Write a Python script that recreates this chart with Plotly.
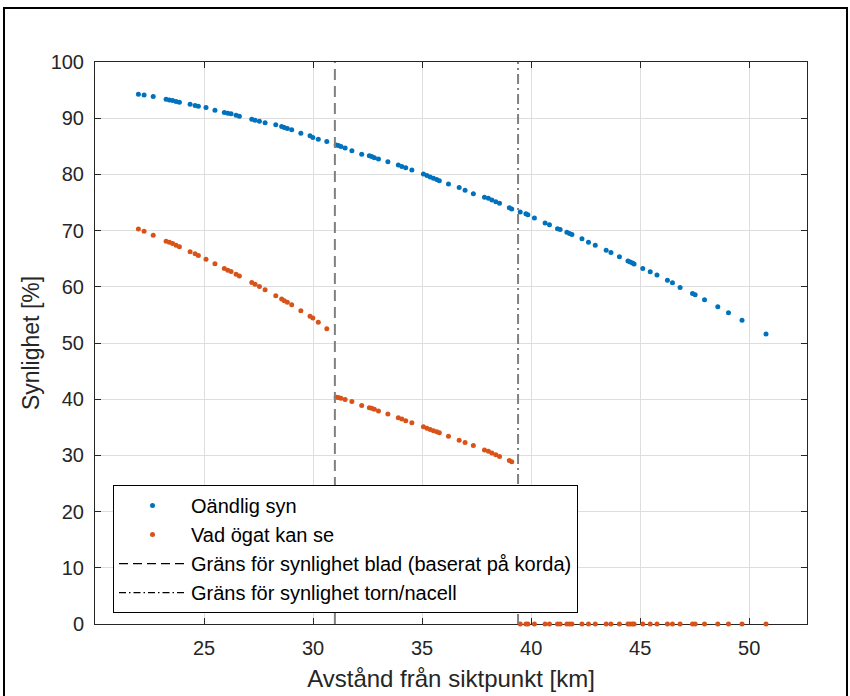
import plotly.graph_objects as go

# ---- data ----
distance_km = [
    21.99, 22.25, 22.67, 23.26, 23.41, 23.56, 23.72, 23.87, 24.36, 24.59, 24.74, 25.09, 25.50, 25.93, 26.09, 26.24,
    26.47, 26.62, 27.19, 27.34, 27.54, 27.80, 28.29, 28.56, 28.68, 28.82, 29.02, 29.44, 29.86, 29.99, 30.24, 30.63,
    31.06, 31.16, 31.28, 31.47, 31.78, 32.23, 32.58, 32.69, 32.81, 33.00, 33.43, 33.91, 34.07, 34.25, 34.53, 35.06,
    35.22, 35.37, 35.52, 35.67, 35.79, 36.21, 36.70, 36.97, 37.35, 37.86, 38.04, 38.20, 38.38, 38.55, 39.00, 39.11,
    39.50, 39.76, 39.85, 40.15, 40.64, 40.84, 41.21, 41.33, 41.64, 41.76, 41.87, 42.33, 42.63, 42.94, 43.44, 43.66,
    44.05, 44.44, 44.54, 44.65, 44.72, 45.12, 45.46, 45.77, 46.25, 46.48, 46.83, 47.40, 47.52, 47.95, 48.56, 49.05,
    49.67, 50.77,
]
oandlig_syn = [
    94.26, 94.14, 93.85, 93.37, 93.25, 93.14, 92.96, 92.84, 92.49, 92.25, 92.13, 91.89, 91.42, 91.01, 90.89, 90.77,
    90.53, 90.36, 89.82, 89.64, 89.47, 89.17, 88.82, 88.52, 88.34, 88.17, 87.93, 87.34, 86.86, 86.57, 86.27, 85.86,
    85.21, 85.15, 84.95, 84.70, 84.20, 83.60, 83.31, 83.20, 82.96, 82.72, 82.25, 81.66, 81.42, 81.18, 80.77, 80.06,
    79.82, 79.53, 79.30, 79.11, 78.88, 78.28, 77.69, 77.16, 76.57, 75.92, 75.74, 75.44, 75.15, 74.85, 74.08, 73.85,
    73.30, 73.01, 72.83, 72.24, 71.36, 71.06, 70.35, 70.18, 69.71, 69.47, 69.29, 68.53, 67.94, 67.40, 66.52, 66.10,
    65.34, 64.57, 64.40, 64.22, 64.04, 63.27, 62.68, 62.09, 61.15, 60.74, 59.88, 58.82, 58.58, 57.70, 56.46, 55.37,
    54.07, 51.59,
]
vad_ogat_kan_se = [
    70.29, 69.88, 69.18, 68.12, 67.94, 67.71, 67.41, 67.12, 66.24, 65.88, 65.59, 64.88, 64.12, 63.24, 62.94, 62.71,
    62.24, 61.94, 60.76, 60.47, 60.06, 59.47, 58.41, 57.82, 57.53, 57.24, 56.82, 55.76, 54.76, 54.47, 53.71, 52.53,
    40.36, 40.30, 40.18, 39.94, 39.58, 38.86, 38.50, 38.38, 38.20, 37.90, 37.37, 36.71, 36.47, 36.17, 35.81, 35.09,
    34.85, 34.61, 34.37, 34.19, 34.01, 33.41, 32.69, 32.28, 31.74, 30.96, 30.72, 30.42, 30.12, 29.82, 29.10, 28.86,
    0.0, 0.0, 0.0, 0.0, 0.0, 0.0, 0.0, 0.0, 0.0, 0.0, 0.0, 0.0, 0.0, 0.0, 0.0, 0.0,
    0.0, 0.0, 0.0, 0.0, 0.0, 0.0, 0.0, 0.0, 0.0, 0.0, 0.0, 0.0, 0.0, 0.0, 0.0, 0.0,
    0.0, 0.0,
]
blade_limit_km = 31.0
tower_limit_km = 39.4
y_limits = [0, 100]
x_ticks = [25, 30, 35, 40, 45, 50]
y_ticks = [0, 10, 20, 30, 40, 50, 60, 70, 80, 90, 100]

series_names = ["Oändlig syn", "Vad ögat kan se",
                "Gräns för synlighet blad (baserat på korda)",
                "Gräns för synlighet torn/nacell"]

FONT = "Liberation Sans, Arial, Helvetica, sans-serif"
INK = "#262626"
BLUE = "#0072BD"
ORANGE = "#D95319"
GREY = "#808080"

fig = go.Figure()

fig.add_trace(go.Scatter(x=distance_km, y=oandlig_syn, mode="markers", name=series_names[0],
                         marker=dict(color=BLUE, size=5), cliponaxis=False))
fig.add_trace(go.Scatter(x=distance_km, y=vad_ogat_kan_se, mode="markers", name=series_names[1],
                         marker=dict(color=ORANGE, size=5), cliponaxis=False))

# vertical limit lines (grey in plot)
fig.add_trace(go.Scatter(x=[blade_limit_km, blade_limit_km], y=y_limits, mode="lines",
                         line=dict(color=GREY, width=2, dash="11px,6px"), showlegend=False,
                         hoverinfo="skip"))
fig.add_trace(go.Scatter(x=[tower_limit_km, tower_limit_km], y=y_limits, mode="lines",
                         line=dict(color=GREY, width=2, dash="10px,4px,2px,4px"), showlegend=False,
                         hoverinfo="skip"))
# legend entries for the lines (black samples)
fig.add_trace(go.Scatter(x=[None], y=[None], mode="lines", name=series_names[2],
                         line=dict(color="black", width=1.2, dash="9px,5px")))
fig.add_trace(go.Scatter(x=[None], y=[None], mode="lines", name=series_names[3],
                         line=dict(color="black", width=1.2, dash="7px,3px,1.5px,3px")))

L, R, T, B = 95, 43, 62, 71.5
W, H = 850, 696
pw, ph = W - L - R, H - T - B

def px_x(p):
    return (p - L) / pw

def px_y(p):
    return (H - B - p) / ph

axis_common = dict(showline=True, linecolor=INK, linewidth=1, mirror="ticks",
                   ticks="inside", ticklen=6, tickcolor=INK, tickwidth=1,
                   showgrid=True, gridcolor="#dedede", gridwidth=1, zeroline=False,
                   tickfont=dict(family=FONT, size=20, color=INK),
                   layer="below traces", automargin=False)

fig.update_layout(
    width=W, height=H,
    margin=dict(l=L, r=R, t=T, b=B, pad=0, autoexpand=False),
    paper_bgcolor="white", plot_bgcolor="white",
    font=dict(family=FONT, color=INK),
    xaxis=dict(range=[20, 52.65], tickvals=x_ticks, ticklabelstandoff=6,
               title=dict(text="Avstånd från siktpunkt [km]", font=dict(family=FONT, size=24, color=INK),
                          standoff=12),
               **axis_common),
    yaxis=dict(range=y_limits, tickvals=y_ticks, ticklabelstandoff=6,
               title=dict(text="Synlighet [%]", font=dict(family=FONT, size=23, color=INK),
                          standoff=4),
               **axis_common),
    legend=dict(x=px_x(113), y=px_y(549.5), xanchor="left", yanchor="middle",
                bgcolor="white", bordercolor="black", borderwidth=1,
                font=dict(family=FONT, size=20, color="black"),
                itemwidth=67, tracegroupgap=0),
    showlegend=True,
    shapes=[dict(type="rect", xref="paper", yref="paper",
                 x0=px_x(4), x1=px_x(847), y0=px_y(700), y1=px_y(8),
                 line=dict(color="black", width=2), fillcolor="rgba(0,0,0,0)", layer="above")],
)

fig.write_html("out.html")
